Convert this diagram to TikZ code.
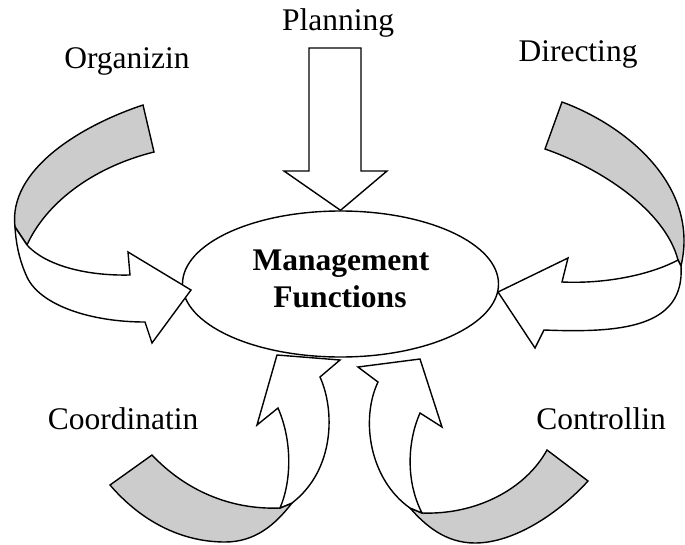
\documentclass[tikz,border=0pt]{standalone}
\usepackage{fontspec}
\setmainfont{Liberation Serif}
\usetikzlibrary{shapes.geometric}
\definecolor{bandgray}{RGB}{204,204,204}

\begin{document}
\begin{tikzpicture} [x=1pt, y=-1pt, line width=1.4pt, %
  lbl/.style={font=\fontsize{31.5}{37}\selectfont, anchor=base, inner sep=0pt}, %
  mflbl/.style={lbl, font=\fontsize{31.5}{37}\selectfont\bfseries}, %
  back/.style={draw, fill=bandgray}, %
  front/.style={draw, fill=white}] %
\useasboundingbox (0,0) rectangle (685,544); %
 %
\node [ellipse, draw, minimum width=316pt, minimum height=146pt, inner sep=0pt] (mf) at (340.5,284) {}; %
\node [mflbl] (mfa) at (341,270) {Management}; %
\node [mflbl] (mfb) at (340,307) {Functions}; %
 %
\node [lbl] (plan) at (338,30) {Planning}; %
\node [lbl] (org) at (127,68) {Organizin}; %
\node [lbl] (dir) at (578,61) {Directing}; %
\node [lbl] (coord) at (123,429) {Coordinatin}; %
\node [lbl] (ctrl) at (601,429) {Controllin}; %
 %
% planning: straight block arrow
\draw [front] (309,48) -- (361,48) -- (361,171) -- (387,171) -- (mf.north) -- (284,171) -- (309,171) -- cycle; %
 %
% organizing: curved arrow from the left
\draw [back] (143,105) .. controls (80,126) and (8,170) .. (15,227) -- (27,245) %
  .. controls (45,205) and (90,168) .. (154,152) -- cycle; %
\draw [front] (15,227) -- (27,245) .. controls (45,265) and (85,276) .. (130,275) %
  -- (128,252) -- (191,290) -- (152,343) -- (145,322) %
  .. controls (90,322) and (40,305) .. (27,277) .. controls (20,262) and (16,245) .. (15,227) -- cycle; %
 %
% directing: curved arrow from the right
\draw [back] (562,102) .. controls (625,125) and (700,185) .. (681,266) -- (678,260) %
  .. controls (665,210) and (600,168) .. (545,149) -- cycle; %
\draw [front] (678,260) .. controls (650,275) and (605,284) .. (562,282) %
  -- (568,258) -- (498,292) -- (535,348) -- (544,330) %
  .. controls (620,333) and (685,328) .. (681,266) -- cycle; %
 %
% coordinating: curved arrow from below left
\draw [back] (152,455) .. controls (185,490) and (230,510) .. (280,508) -- (292,503) %
  .. controls (275,525) and (255,542) .. (225,542) .. controls (180,542) and (140,520) .. (110,485) -- cycle; %
\draw [front] (280,508) .. controls (292,480) and (292,440) .. (278,408) %
  -- (257,425) -- (277,355) -- (340,360) -- (320,377) %
  .. controls (335,410) and (335,470) .. (292,503) -- cycle; %
 %
% controlling: curved arrow from below right
\draw [back] (547,450) .. controls (525,490) and (475,515) .. (422,513) -- (410,508) %
  .. controls (425,525) and (445,543) .. (475,543) .. controls (515,543) and (560,512) .. (588,481) -- cycle; %
\draw [front] (410,508) .. controls (370,480) and (360,420) .. (378,382) %
  -- (358,367) -- (420,359) -- (442,427) -- (420,413) %
  .. controls (408,440) and (405,480) .. (422,513) -- cycle; %
\end{tikzpicture}
\end{document}
